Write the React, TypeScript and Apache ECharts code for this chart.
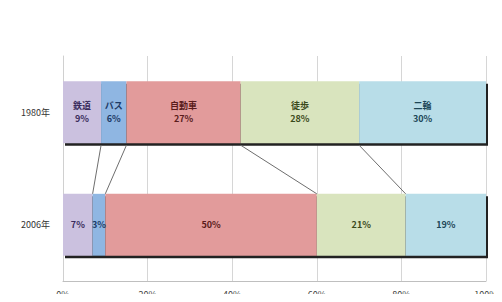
import React, { useEffect, useRef } from "react";
import * as echarts from "echarts";

const categories = ["1980年", "2006年"];
const modes = ["鉄道", "バス", "自動車", "徒歩", "二輪"];
const values1980 = [9, 6, 27, 28, 30];
const values2006 = [7, 3, 50, 21, 19];
const xTicks = [0, 20, 40, 60, 80, 100];

const fills = ["#cbc1df", "#8fb6e2", "#e29b9b", "#d9e4be", "#b8dde8"];
const textColors = ["#3a2c5c", "#1d3a66", "#5a1c1c", "#3b4a1c", "#1c4656"];
const BAR_FRAC = 0.55;

export default function App() {
  const ref = useRef<HTMLDivElement>(null);
  useEffect(() => {
    if (!ref.current) return;
    const chart = echarts.init(ref.current, undefined, { renderer: "svg" });
    const font = '"Noto Sans CJK JP", "Noto Sans", sans-serif';

    const cum = (arr: number[], n: number) => arr.slice(0, n + 1).reduce((a, b) => a + b, 0);
    const linkData = modes.slice(0, -1).map((_, i) => [cum(values1980, i), 0, cum(values2006, i)]);
    const totals = [values1980, values2006].map((arr, i) => [arr.reduce((a, b) => a + b, 0), i]);

    const barSeries = modes.map((m, i) => ({
      type: "bar",
      name: m,
      stack: "total",
      barCategoryGap: "45%",
      z: 3,
      data: [values1980[i], values2006[i]],
      itemStyle: { color: fills[i] },
      label: {
        show: true,
        position: "inside",
        fontSize: 9,
        fontWeight: "bold",
        fontFamily: font,
        color: textColors[i],
        lineHeight: 13,
        formatter: (p: any) => (p.dataIndex === 0 ? `${m}\n${p.value}%` : `${p.value}%`),
      },
    }));

    chart.setOption({
      animation: false,
      grid: { left: 63, right: 16, top: 56, bottom: 21, containLabel: false },
      xAxis: {
        type: "value",
        min: 0,
        max: 100,
        interval: 20,
        axisLine: { show: true, lineStyle: { color: "#bfbfbf" } },
        axisTick: { show: false },
        splitLine: { show: true, lineStyle: { color: "#d6d6d6" } },
        axisLabel: {
          formatter: (v: number) => (xTicks.includes(v) ? `${v}%` : ""),
          fontSize: 9,
          color: "#444",
          fontFamily: font,
          margin: 9,
        },
      },
      yAxis: {
        type: "category",
        inverse: true,
        data: categories,
        axisLine: { show: true, lineStyle: { color: "#d0d0d0" } },
        axisTick: { show: false },
        axisLabel: { fontSize: 9, color: "#333", fontFamily: font, margin: 13 },
      },
      series: [
        {
          type: "custom",
          z: 1,
          data: totals,
          encode: { x: 0, y: 1 },
          renderItem: (params: any, api: any) => {
            const idx = api.value(1);
            const s = api.coord([0, idx]);
            const e = api.coord([api.value(0), idx]);
            const h = api.size([0, 1])[1] * BAR_FRAC;
            return {
              type: "rect",
              shape: { x: s[0] + 2, y: s[1] - h / 2 + 2.5, width: e[0] - s[0], height: h },
              style: { fill: "#222" },
            };
          },
        },
        ...barSeries,
        {
          type: "custom",
          z: 4,
          data: linkData,
          encode: { x: 0, y: 1 },
          renderItem: (params: any, api: any) => {
            const p1 = api.coord([api.value(0), 0]);
            const p2 = api.coord([api.value(2), 1]);
            const h = api.size([0, 1])[1] * BAR_FRAC;
            return {
              type: "line",
              shape: { x1: p1[0], y1: p1[1] + h / 2 + 2, x2: p2[0], y2: p2[1] - h / 2 },
              style: { stroke: "#6e6e6e", lineWidth: 1 },
            };
          },
        },
      ],
    });
    return () => chart.dispose();
  }, []);
  return <div ref={ref} style={{ width: 502, height: 302, margin: -8 }} />;
}
